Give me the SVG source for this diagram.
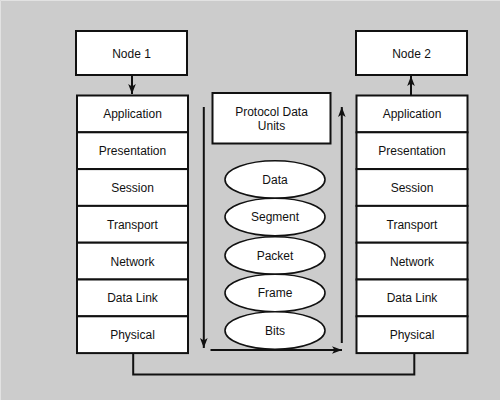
<svg xmlns="http://www.w3.org/2000/svg" width="500" height="400" viewBox="0 0 500 400">
<style>
.box{fill:#fff;stroke:#111;stroke-width:2}
.ell{fill:#fff;stroke:#111;stroke-width:1.6}
.t{font-family:"Liberation Sans",Arial,sans-serif;font-size:12px;fill:#111;text-anchor:middle}
.ln{fill:none;stroke:#111;stroke-width:2}
</style>
<defs>
<marker id="ah" viewBox="0 0 10 10" refX="10" refY="5" markerWidth="5" markerHeight="5" orient="auto" markerUnits="strokeWidth">
<path d="M0,1.2 L10,5 L0,8.8 L2.5,5 Z" fill="#111"/>
</marker>
</defs>
<rect x="0" y="0" width="500" height="400" fill="#cccccc"/>
<path d="M0.5,400 V0.5 H500" fill="none" stroke="#e2e2e2" stroke-width="1"/>

<g id="node1">
<rect class="box" x="76" y="31" width="111" height="44"/>
<text class="t" x="131.5" y="57.5">Node 1</text>
</g>
<g id="node2">
<rect class="box" x="356" y="31" width="111" height="44"/>
<text class="t" x="411.5" y="57.5">Node 2</text>
</g>

<g id="left-stack">
<rect class="box" x="77" y="95.5" width="111" height="36.8"/>
<text class="t" x="132.5" y="118.3">Application</text>
<rect class="box" x="77" y="132.3" width="111" height="36.8"/>
<text class="t" x="132.5" y="155.1">Presentation</text>
<rect class="box" x="77" y="169.1" width="111" height="36.8"/>
<text class="t" x="132.5" y="191.9">Session</text>
<rect class="box" x="77" y="205.9" width="111" height="36.8"/>
<text class="t" x="132.5" y="228.7">Transport</text>
<rect class="box" x="77" y="242.7" width="111" height="36.8"/>
<text class="t" x="132.5" y="265.5">Network</text>
<rect class="box" x="77" y="279.5" width="111" height="36.8"/>
<text class="t" x="132.5" y="302.3">Data Link</text>
<rect class="box" x="77" y="316.3" width="111" height="36.8"/>
<text class="t" x="132.5" y="339.1">Physical</text>
</g>

<g id="right-stack">
<rect class="box" x="356.5" y="95.5" width="111" height="36.8"/>
<text class="t" x="412" y="118.3">Application</text>
<rect class="box" x="356.5" y="132.3" width="111" height="36.8"/>
<text class="t" x="412" y="155.1">Presentation</text>
<rect class="box" x="356.5" y="169.1" width="111" height="36.8"/>
<text class="t" x="412" y="191.9">Session</text>
<rect class="box" x="356.5" y="205.9" width="111" height="36.8"/>
<text class="t" x="412" y="228.7">Transport</text>
<rect class="box" x="356.5" y="242.7" width="111" height="36.8"/>
<text class="t" x="412" y="265.5">Network</text>
<rect class="box" x="356.5" y="279.5" width="111" height="36.8"/>
<text class="t" x="412" y="302.3">Data Link</text>
<rect class="box" x="356.5" y="316.3" width="111" height="36.8"/>
<text class="t" x="412" y="339.1">Physical</text>
</g>

<g id="pdu">
<rect class="box" x="212.5" y="93" width="118" height="50.5"/>
<text class="t" x="271.5" y="115.5">Protocol Data</text>
<text class="t" x="271.5" y="130">Units</text>
</g>

<g id="pdu-data"><ellipse class="ell" cx="275" cy="179.5" rx="50" ry="18.8"/><text class="t" x="275" y="183.8">Data</text></g>
<g id="pdu-segment"><ellipse class="ell" cx="275" cy="217" rx="50" ry="18.8"/><text class="t" x="275" y="221.3">Segment</text></g>
<g id="pdu-packet"><ellipse class="ell" cx="275" cy="255.5" rx="50" ry="18.8"/><text class="t" x="275" y="259.8">Packet</text></g>
<g id="pdu-frame"><ellipse class="ell" cx="275" cy="293" rx="50" ry="18.8"/><text class="t" x="275" y="297.3">Frame</text></g>
<g id="pdu-bits"><ellipse class="ell" cx="275" cy="330.5" rx="50" ry="18.8"/><text class="t" x="275" y="334.8">Bits</text></g>

<g id="connectors">
<line class="ln" x1="132" y1="75" x2="132" y2="94" marker-end="url(#ah)"/>
<line class="ln" x1="411" y1="95.5" x2="411" y2="76" marker-end="url(#ah)"/>
<line class="ln" x1="203.8" y1="107" x2="203.8" y2="348" marker-end="url(#ah)"/>
<line class="ln" x1="210.5" y1="350" x2="342" y2="350" marker-end="url(#ah)"/>
<line class="ln" x1="341.8" y1="343" x2="341.8" y2="107" marker-end="url(#ah)"/>
<polyline class="ln" points="133.2,353 133.2,374.5 414.3,374.5 414.3,353"/>
</g>
</svg>
